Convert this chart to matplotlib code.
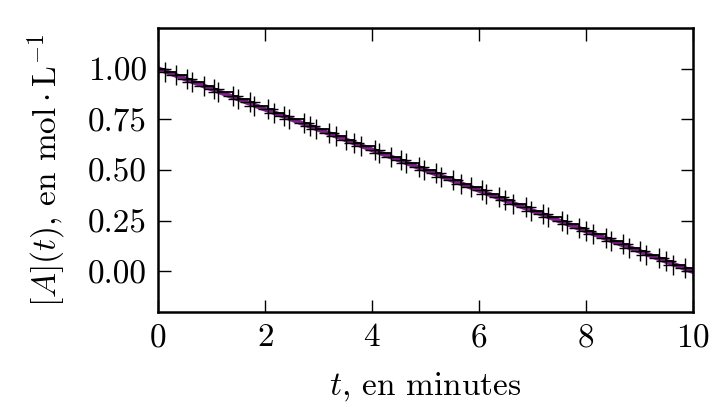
import matplotlib
matplotlib.use("Agg")
import matplotlib.pyplot as plt
from matplotlib.ticker import FormatStrFormatter

plt.rcParams['font.family'] = 'serif'
plt.rcParams['font.serif'] = ['cmr10']
plt.rcParams['mathtext.fontset'] = 'cm'
plt.rcParams['axes.formatter.use_mathtext'] = True

# event times (minutes) of the stochastic simulation
t_events = [0.00, 0.14, 0.33, 0.54, 0.64, 0.86, 1.05, 1.13, 1.40, 1.50, 1.72, 1.80,
            2.05, 2.16, 2.36, 2.45, 2.73, 2.84, 2.96, 3.20, 3.33, 3.52, 3.66, 3.80,
            4.05, 4.13, 4.35, 4.55, 4.63, 4.88, 4.97, 5.20, 5.30, 5.52, 5.66, 5.85,
            6.05, 6.13, 6.38, 6.48, 6.63, 6.88, 6.98, 7.20, 7.30, 7.55, 7.64, 7.88,
            8.00, 8.14, 8.38, 8.48, 8.70, 8.80, 9.02, 9.13, 9.37, 9.50, 9.63, 9.86, 10.0]
n_steps = 60
conc = [1 - i / n_steps for i in range(len(t_events))]

# deterministic zero-order law
t_model = [0.0, 10.0]
conc_model = [1.0, 0.0]

x_ticks = [0, 2, 4, 6, 8, 10]
y_ticks = [0.0, 0.25, 0.5, 0.75, 1.0]

fig = plt.figure(figsize=(7.13, 4.09), dpi=100)
ax = fig.add_axes([0.2216, 0.237, 0.750, 0.6945])

ax.plot(t_model, conc_model, color='#85208f', lw=3.5, zorder=1)
ax.step(t_events, conc, where='post', color='black', lw=1.3, zorder=2)
ax.plot(t_events, conc, linestyle='none', marker='+', color='black',
        markersize=15, markeredgewidth=1.0, zorder=3)

ax.set_xlim(0, 10)
ax.set_ylim(-0.2, 1.2)
ax.set_xticks(x_ticks)
ax.set_yticks(y_ticks)
ax.yaxis.set_major_formatter(FormatStrFormatter('%.2f'))
ax.tick_params(direction='in', top=True, right=True, length=9, width=1,
               labelsize=24, pad=8)
for s in ax.spines.values():
    s.set_linewidth(1.8)

ax.set_xlabel(r'$t$, en minutes', fontsize=24, labelpad=13)
ax.set_ylabel(r'$[A](t)$, en $\mathrm{mol}\cdot\mathrm{L}^{-1}$', fontsize=24, labelpad=14)

fig.savefig('out.png', dpi=100)
